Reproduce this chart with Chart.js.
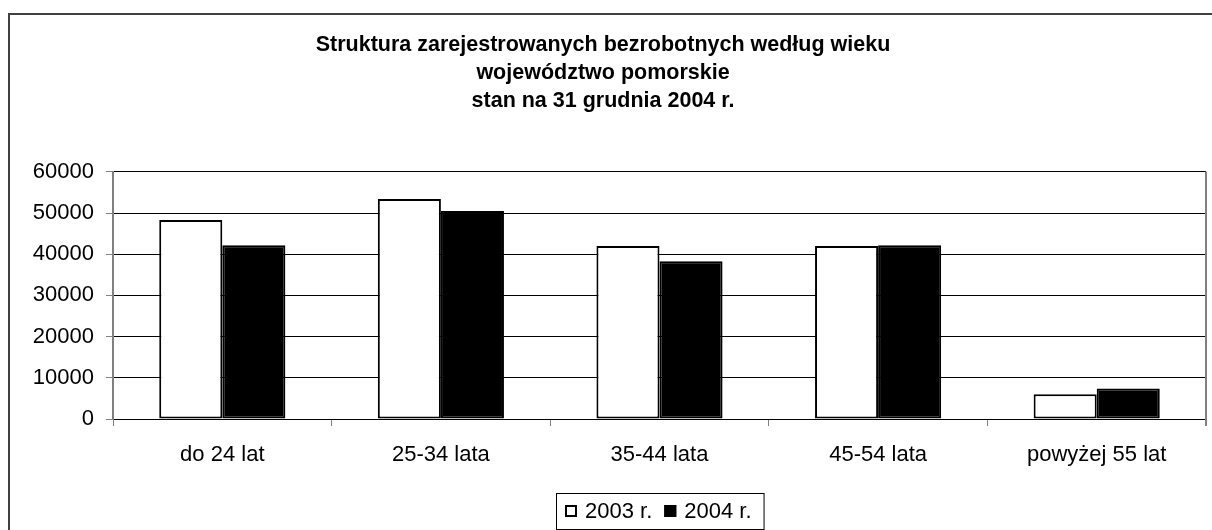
<!DOCTYPE html>
<html lang="pl">
<head>
<meta charset="UTF-8">
<title>Struktura zarejestrowanych bezrobotnych według wieku</title>
<script src="https://cdn.jsdelivr.net/npm/chart.js@4"></script>
<style>
  html, body { margin: 0; padding: 0; background: #fff; }
  #wrap { position: relative; width: 1212px; height: 530px; overflow: hidden; }
  canvas { display: block; }
</style>
</head>
<body>
<div id="wrap"><canvas id="chart" width="1212" height="530"></canvas></div>
<script>
// Dane
const categories = ['do 24 lat', '25-34 lata', '35-44 lata', '45-54 lata', 'powyżej 55 lat'];
const values2003 = [48300, 53400, 42000, 42000, 6000];
const values2004 = [42200, 50500, 38300, 42200, 7400];
const seriesLabels = ['2003 r.', '2004 r.'];
const yTicks = [0, 10000, 20000, 30000, 40000, 50000, 60000];
const titleLines = [
  'Struktura zarejestrowanych bezrobotnych według wieku',
  'województwo pomorskie',
  'stan na 31 grudnia 2004 r.'
];

const FONT = "'Liberation Sans', Arial, sans-serif";

// outer frame + right edge of plot area
const framePlugin = {
  id: 'frame',
  beforeDraw(chart) {
    const ctx = chart.ctx;
    ctx.save();
    ctx.strokeStyle = '#404040';
    ctx.lineWidth = 2;
    ctx.beginPath();
    ctx.moveTo(9, 530);
    ctx.lineTo(9, 14);
    ctx.lineTo(1212, 14);
    ctx.stroke();
    ctx.restore();
  },
  afterDatasetsDraw(chart) {
    const { ctx, chartArea } = chart;
    ctx.save();
    ctx.strokeStyle = '#808080';
    ctx.lineWidth = 2;
    ctx.beginPath();
    ctx.moveTo(chartArea.right, chartArea.top);
    ctx.lineTo(chartArea.right, chartArea.bottom + 7);
    ctx.stroke();
    ctx.restore();
  }
};

// Excel-like boxed legend under the axis
const boxLegend = {
  id: 'boxLegend',
  afterDraw(chart) {
    const { ctx, chartArea } = chart;
    const sets = chart.data.datasets;
    const box = 12, gap = 8, itemGap = 12, padL = 9, padR = 12;
    ctx.save();
    ctx.font = '22px ' + FONT;
    const widths = sets.map(ds => box + gap + ctx.measureText(ds.label).width);
    const total = widths.reduce((a, b) => a + b, 0) + itemGap * (sets.length - 1) + padL + padR;
    const top = 493, h = 36;
    let x = Math.round((chartArea.left + chartArea.right) / 2 - total / 2);
    ctx.strokeStyle = '#000';
    ctx.lineWidth = 1;
    ctx.strokeRect(x + 0.5, top + 0.5, total, h);
    x += padL;
    const cy = top + h / 2;
    sets.forEach((ds, i) => {
      ctx.fillStyle = ds.backgroundColor;
      ctx.fillRect(x, cy - box / 2, box, box);
      ctx.strokeStyle = '#000';
      ctx.lineWidth = 2;
      ctx.strokeRect(x + 1, cy - box / 2 + 1, box - 2, box - 2);
      ctx.fillStyle = '#000';
      ctx.textBaseline = 'middle';
      ctx.fillText(ds.label, x + box + gap, cy + 1);
      x += widths[i] + itemGap;
    });
    ctx.restore();
  }
};

new Chart(document.getElementById('chart'), {
  type: 'bar',
  data: {
    labels: categories,
    datasets: [
      {
        label: seriesLabels[0],
        data: values2003,
        backgroundColor: '#ffffff',
        borderColor: '#000000',
        borderWidth: 2,
        borderSkipped: false
      },
      {
        label: seriesLabels[1],
        data: values2004,
        backgroundColor: '#000000',
        borderColor: '#000000',
        borderWidth: 2,
        borderSkipped: false
      }
    ]
  },
  options: {
    responsive: false,
    animation: false,
    devicePixelRatio: 1,
    layout: { padding: { left: 0, right: 6, top: 0, bottom: 0 } },
    datasets: { bar: { categoryPercentage: 0.577, barPercentage: 1 } },
    plugins: {
      legend: { display: false },
      tooltip: { enabled: false },
      title: {
        display: true,
        text: titleLines,
        color: '#000',
        font: { family: FONT, size: 21.5, weight: 'bold', lineHeight: 1.3 },
        padding: { top: 31, bottom: 57 }
      }
    },
    scales: {
      x: {
        offset: true,
        grid: { offset: true, drawOnChartArea: false, drawTicks: true, tickLength: 7, tickColor: '#808080', tickWidth: 1 },
        border: { color: '#000', width: 1 },
        ticks: { color: '#000', font: { family: FONT, size: 22 }, padding: 16, maxRotation: 0, autoSkip: false },
        afterFit(scale) { scale.height = 111; }
      },
      y: {
        min: 0,
        max: 60000,
        afterBuildTicks(scale) { scale.ticks = yTicks.map(v => ({ value: v })); },
        grid: { color: '#000', lineWidth: 1, drawTicks: true, tickLength: 7, tickColor: '#808080', tickWidth: 1 },
        border: { color: '#808080', width: 2 },
        ticks: {
          color: '#000',
          font: { family: FONT, size: 22 },
          padding: 12,
          callback: v => String(v)
        },
        afterFit(scale) { scale.width = 113; }
      }
    }
  },
  plugins: [framePlugin, boxLegend]
});
</script>
</body>
</html>
